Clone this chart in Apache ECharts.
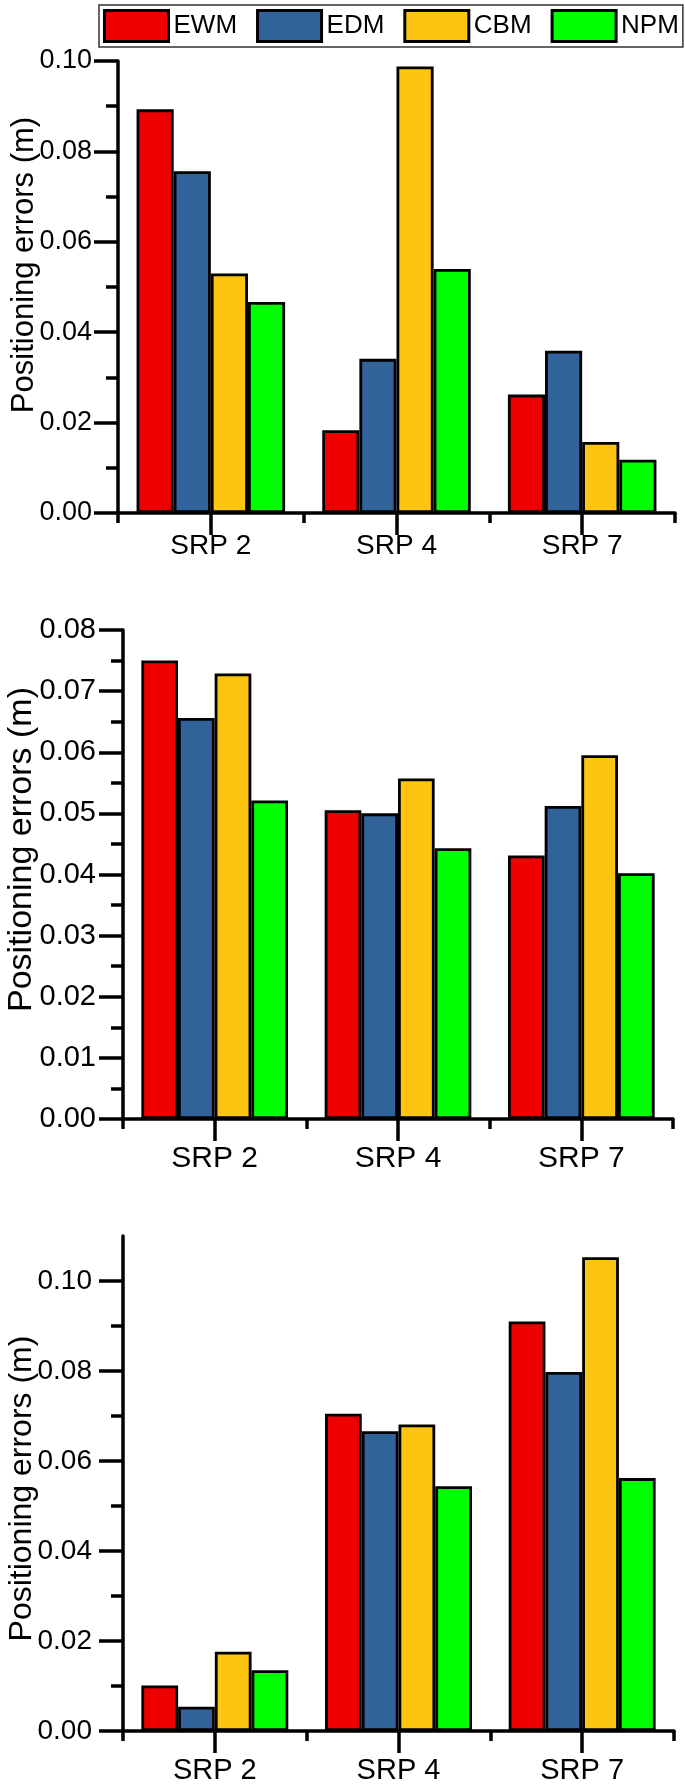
<!DOCTYPE html>
<html>
<head>
<meta charset="utf-8">
<script src="https://cdn.jsdelivr.net/npm/echarts@6/dist/echarts.min.js"></script>
<style>
html, body { margin: 0; padding: 0; background: #ffffff; }
#chart { width: 685px; height: 1791px; }
</style>
</head>
<body>
<div id="chart"></div>
<script>
var categories = ['SRP 2', 'SRP 4', 'SRP 7'];
var methods = ['EWM', 'EDM', 'CBM', 'NPM'];
var colors = ['#ee0000', '#31629a', '#fdc512', '#00ff00'];

// top panel
var ewmTop = [0.0893, 0.0183, 0.0262];
var edmTop = [0.0756, 0.0341, 0.0359];
var cbmTop = [0.0530, 0.0988, 0.0157];
var npmTop = [0.0467, 0.0540, 0.0118];

// middle panel
var ewmMid = [0.0750, 0.0505, 0.0431];
var edmMid = [0.0656, 0.0500, 0.0512];
var cbmMid = [0.0729, 0.0557, 0.0595];
var npmMid = [0.0521, 0.0443, 0.0402];

// bottom panel
var ewmBot = [0.0101, 0.0705, 0.0910];
var edmBot = [0.0054, 0.0666, 0.0798];
var cbmBot = [0.0176, 0.0681, 0.1053];
var npmBot = [0.0135, 0.0544, 0.0562];

// bottom panel y ticks (axis runs to 0.11 without a label there)
var majorTicksBot = [0, 0.02, 0.04, 0.06, 0.08, 0.10];
var minorTicksBot = [0.01, 0.03, 0.05, 0.07, 0.09];

var yName = 'Positioning errors (m)';
var font = "'Liberation Sans', Arial, sans-serif";
var black = '#000';
var lw = 3.5;

var chartDom = document.getElementById('chart');
var myChart = echarts.init(chartDom);

function fmt(v) {
    return v.toFixed(2);
}

// boundary ticks on the main axis, longer centre ticks on an overlaid one
function catAxes(gridIndex, height, fontSize, margin) {
    return [{
        type: 'category',
        gridIndex: gridIndex,
        data: categories,
        axisLine: { onZero: false, lineStyle: { color: black, width: lw } },
        axisTick: { show: true, length: 10, lineStyle: { color: black, width: lw } },
        axisLabel: { color: black, fontSize: fontSize, fontFamily: font, margin: margin },
        splitLine: { show: false }
    }, {
        type: 'category',
        gridIndex: gridIndex,
        data: categories,
        position: 'top',
        offset: -height,
        axisLine: { show: false, onZero: false },
        axisTick: { show: true, alignWithLabel: true, inside: true, length: 22, lineStyle: { color: black, width: lw } },
        axisLabel: { show: false },
        splitLine: { show: false }
    }];
}

function valAxis(gridIndex, max, interval, fontSize, margin, nameGap, nameSize, namePad) {
    return {
        type: 'value',
        gridIndex: gridIndex,
        min: 0,
        max: max,
        interval: interval,
        name: yName,
        nameLocation: 'middle',
        nameRotate: 90,
        nameGap: nameGap,
        nameMoveOverlap: false,
        nameTextStyle: { color: black, fontSize: nameSize, fontFamily: font, padding: namePad },
        axisLine: { show: true, onZero: false, lineStyle: { color: black, width: lw } },
        axisTick: { show: true, length: 24, lineStyle: { color: black, width: lw } },
        minorTick: { show: true, splitNumber: 2, length: 12, lineStyle: { color: black, width: lw } },
        axisLabel: { color: black, fontSize: fontSize, fontFamily: font, margin: margin, formatter: fmt },
        splitLine: { show: false },
        minorSplitLine: { show: false }
    };
}

function bars(valueLists, xIdx, yIdx) {
    return valueLists.map(function (vals, i) {
        return {
            name: methods[i],
            type: 'bar',
            xAxisIndex: xIdx,
            yAxisIndex: yIdx,
            data: vals,
            barWidth: '20%',
            barGap: '0%',
            itemStyle: { color: colors[i], borderColor: black, borderWidth: 2.8 },
            emphasis: { disabled: true }
        };
    });
}

var yBot = {
    type: 'value',
    gridIndex: 2,
    min: 0,
    max: 0.11,
    interval: 0.01,
    name: yName,
    nameLocation: 'middle',
    nameRotate: 90,
    nameGap: 85,
    nameMoveOverlap: false,
    nameTextStyle: { color: black, fontSize: 32, fontFamily: font, padding: [0, 10, 0, 0] },
    axisLine: { show: true, onZero: false, lineStyle: { color: black, width: lw } },
    axisTick: { show: true, length: 24, customValues: majorTicksBot, lineStyle: { color: black, width: lw } },
    axisLabel: { color: black, fontSize: 28, fontFamily: font, margin: 31, customValues: majorTicksBot, formatter: fmt },
    splitLine: { show: false }
};
var yBotMinor = {
    type: 'value',
    gridIndex: 2,
    min: 0,
    max: 0.11,
    interval: 0.01,
    position: 'right',
    offset: -551,
    axisLine: { show: false, onZero: false },
    axisTick: { show: true, inside: true, length: 12, customValues: minorTicksBot, lineStyle: { color: black, width: lw } },
    axisLabel: { show: false },
    splitLine: { show: false }
};

var gridBase = { containLabel: false, outerBoundsMode: 'none' };

var option = {
    backgroundColor: '#ffffff',
    animation: false,
    legend: {
        data: methods,
        left: 99,
        top: 5,
        padding: [4, 4, 4, 4],
        itemGap: 19,
        itemWidth: 64,
        itemHeight: 31,
        icon: 'rect',
        borderColor: '#333',
        borderWidth: 1.5,
        backgroundColor: '#ffffff',
        selectedMode: false,
        textStyle: { color: black, fontSize: 26, fontFamily: font },
        itemStyle: { borderColor: black, borderWidth: 3 }
    },
    grid: [
        Object.assign({ left: 118, top: 61, width: 557, height: 452 }, gridBase),
        Object.assign({ left: 123, top: 630, width: 550, height: 489 }, gridBase),
        Object.assign({ left: 123, top: 1236, width: 551, height: 495 }, gridBase)
    ],
    xAxis: [].concat(
        catAxes(0, 452, 28, 19),
        catAxes(1, 489, 30, 25),
        catAxes(2, 495, 29, 25)
    ),
    yAxis: [
        valAxis(0, 0.10, 0.02, 27, 26, 78, 31, [0, 0, 0, 44]),
        valAxis(1, 0.08, 0.01, 29, 27, 84, 34, [0, 0, 0, 50]),
        yBot,
        yBotMinor
    ],
    series: [].concat(
        bars([ewmTop, edmTop, cbmTop, npmTop], 0, 0),
        bars([ewmMid, edmMid, cbmMid, npmMid], 2, 1),
        bars([ewmBot, edmBot, cbmBot, npmBot], 4, 2)
    )
};

option && myChart.setOption(option);
</script>
</body>
</html>
